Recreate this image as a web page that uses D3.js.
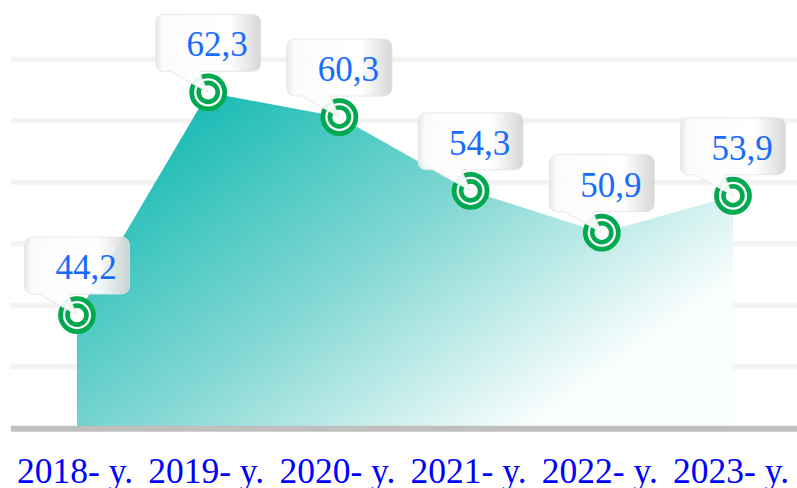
<!DOCTYPE html>
<html>
<head>
<meta charset="utf-8">
<script src="https://cdn.jsdelivr.net/npm/d3@7"></script>
<style>
  html, body { margin: 0; padding: 0; background: #fff; }
  svg { display: block; }
</style>
</head>
<body>
<svg id="chart"></svg>
<script>
// chart data
const years = ["2018- y.", "2019- y.", "2020- y.", "2021- y.", "2022- y.", "2023- y."];
const values = [44.2, 62.3, 60.3, 54.3, 50.9, 53.9];
const gridTicks = [40, 45, 50, 55, 60, 65];
const yMin = 35, yMax = 65;

const width = 797, height = 488;
const margin = { left: 11, right: 0 };

const svg = d3.select("#chart")
  .attr("width", width)
  .attr("height", height);

// scales
const x = d3.scalePoint()
  .domain(years)
  .range([77, 733]);

const y = d3.scaleLinear()
  .domain([yMin, yMax])
  .range([428.3, 59.2]);

const defs = svg.append("defs");

// area fill, teal fading to white towards bottom-right
const areaGrad = defs.append("linearGradient")
  .attr("id", "areaGrad")
  .attr("gradientUnits", "userSpaceOnUse")
  .attr("x1", 208).attr("y1", 97)
  .attr("x2", 475).attr("y2", 470);
areaGrad.append("stop").attr("offset", 0).attr("stop-color", "#1bbbb5");
areaGrad.append("stop").attr("offset", 0.5).attr("stop-color", "#84d8d3");
areaGrad.append("stop").attr("offset", 1).attr("stop-color", "#fbfefe");

// callout box fill
const boxGrad = defs.append("linearGradient")
  .attr("id", "boxGrad")
  .attr("x1", 0).attr("y1", 0).attr("x2", 1).attr("y2", 0);
boxGrad.append("stop").attr("offset", 0).attr("stop-color", "#e6e6e6");
boxGrad.append("stop").attr("offset", 0.07).attr("stop-color", "#fbfbfb");
boxGrad.append("stop").attr("offset", 0.7).attr("stop-color", "#ffffff");
boxGrad.append("stop").attr("offset", 1).attr("stop-color", "#d4d4d4");

// gridlines
svg.append("g")
  .selectAll("line")
  .data(gridTicks)
  .join("line")
  .attr("x1", margin.left)
  .attr("x2", width - margin.right)
  .attr("y1", d => y(d))
  .attr("y2", d => y(d))
  .attr("stroke", "#f2f2f2")
  .attr("stroke-width", 5);

// area
const area = d3.area()
  .x((d, i) => x(years[i]))
  .y0(y(yMin))
  .y1(d => y(d));

svg.append("path")
  .datum(values)
  .attr("fill", "url(#areaGrad)")
  .attr("d", area);

// baseline
svg.append("line")
  .attr("x1", margin.left)
  .attr("x2", width - margin.right)
  .attr("y1", y(yMin) + 0.4)
  .attr("y2", y(yMin) + 0.4)
  .attr("stroke", "#bfbfbf")
  .attr("stroke-width", 6);

// markers
const markers = svg.append("g")
  .selectAll("g")
  .data(values)
  .join("g")
  .attr("transform", (d, i) => `translate(${x(years[i])},${y(d)})`);

markers.append("circle").attr("r", 18.5).attr("fill", "#fff");
markers.append("circle")
  .attr("r", 16.5)
  .attr("fill", "none")
  .attr("stroke", "#00a84f")
  .attr("stroke-width", 4.8);
markers.append("circle")
  .attr("r", 9.5)
  .attr("fill", "none")
  .attr("stroke", "#00a84f")
  .attr("stroke-width", 4.6);

// callout shape: rounded box above the point with a pointer down to it
function callout(cx, cy) {
  const w = 105, h = 57, r = 9;
  const x0 = cx - w / 2, x1 = cx + w / 2;
  const y1 = cy - 21, y0 = y1 - h;
  const p1 = cx - 38, p2 = cx - 9;
  return `M${x0 + r},${y0}` +
    `H${x1 - r}Q${x1},${y0} ${x1},${y0 + r}` +
    `V${y1 - r}Q${x1},${y1} ${x1 - r},${y1}` +
    `H${p2}L${cx},${cy}L${p1},${y1}` +
    `H${x0 + r}Q${x0},${y1} ${x0},${y1 - r}` +
    `V${y0 + r}Q${x0},${y0} ${x0 + r},${y0}Z`;
}

const labels = svg.append("g")
  .selectAll("g")
  .data(values)
  .join("g");

labels.append("path")
  .attr("d", (d, i) => callout(x(years[i]), y(d)))
  .attr("fill", "url(#boxGrad)")
  .attr("fill-opacity", 0.93)
  .attr("stroke", "#e2e2e2")
  .attr("stroke-width", 0.8);

labels.append("text")
  .attr("x", (d, i) => x(years[i]) + 9)
  .attr("y", d => y(d) - 36)
  .attr("text-anchor", "middle")
  .attr("font-family", "'Liberation Serif', 'Times New Roman', serif")
  .attr("font-size", 35)
  .attr("fill", "#176cff")
  .text(d => d3.format(".1f")(d).replace(".", ","));

// category labels (cut at the bottom edge as in the original)
svg.append("g")
  .selectAll("text")
  .data(years)
  .join("text")
  .attr("x", d => x(d) - 2)
  .attr("y", 483)
  .attr("text-anchor", "middle")
  .attr("font-family", "'Liberation Serif', 'Times New Roman', serif")
  .attr("font-size", 35.5)
  .attr("fill", "#0000ff")
  .text(d => d);
</script>
</body>
</html>
